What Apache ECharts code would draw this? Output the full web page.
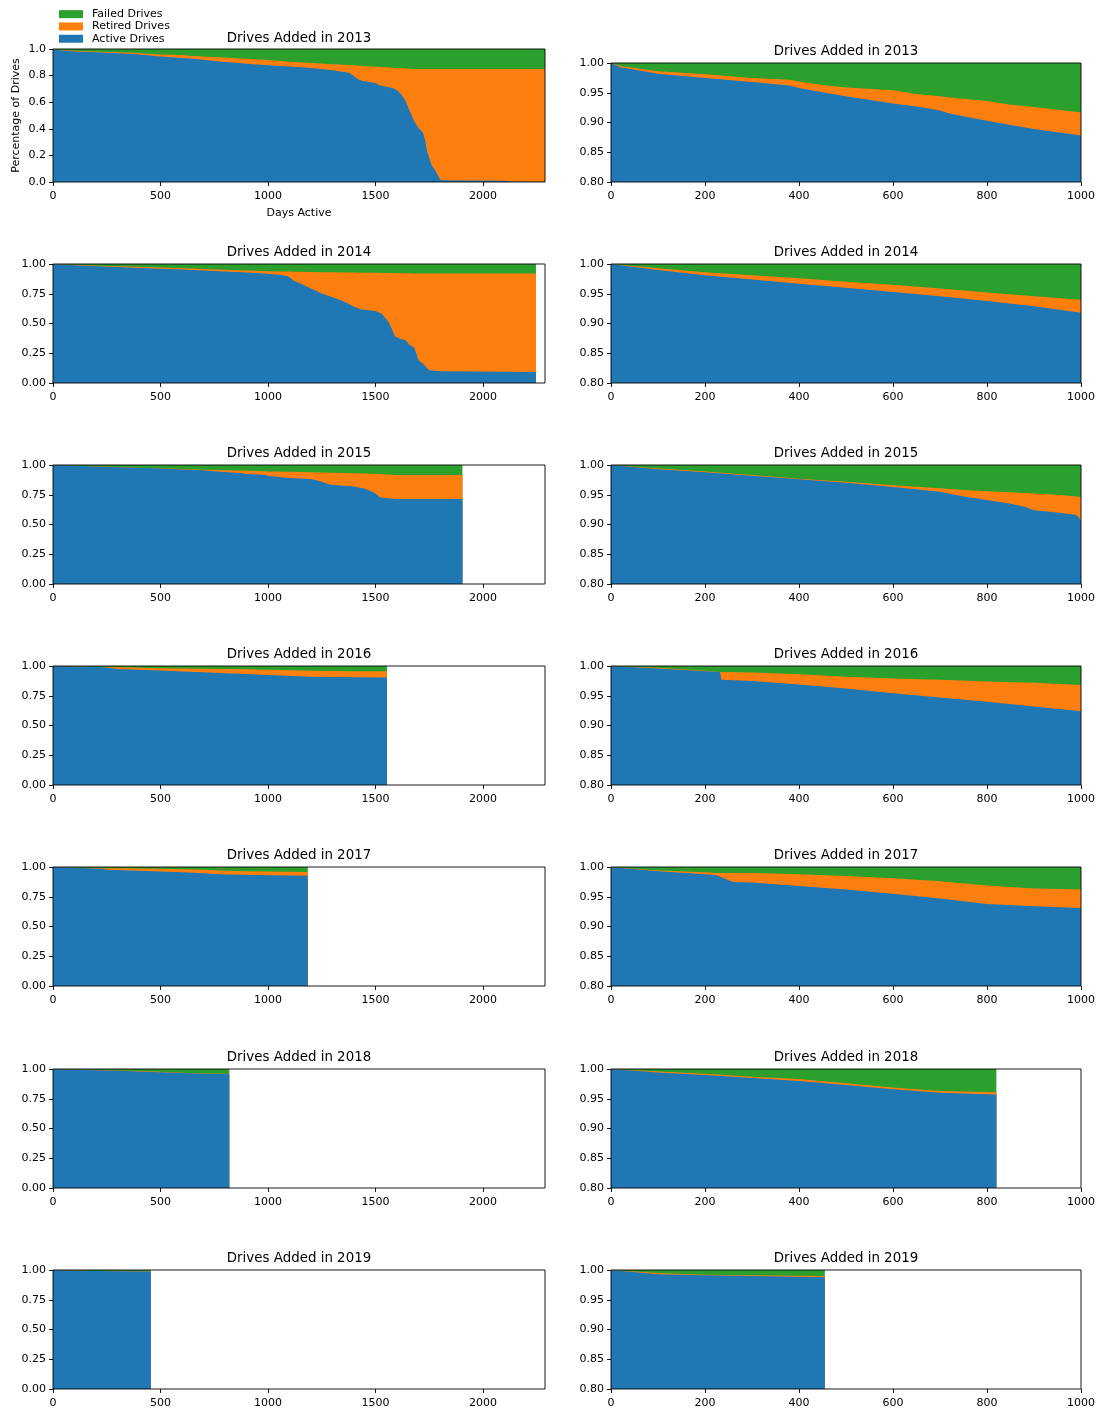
<!DOCTYPE html>
<html>
<head>
<meta charset="utf-8">
<script src="https://cdn.jsdelivr.net/npm/echarts@6/dist/echarts.min.js"></script>
<style>
  html, body { margin: 0; padding: 0; background: #fff; }
  #chart { width: 1103px; height: 1412px; }
</style>
</head>
<body>
<div id="chart"></div>
<script>
// Share of each yearly drive cohort that is still active, retired or failed,
// by number of days since the drives were added.

const seriesNames = ['Active Drives', 'Retired Drives', 'Failed Drives'];
const legendOrder = ['Failed Drives', 'Retired Drives', 'Active Drives'];
const cohortYears = [2013, 2014, 2015, 2016, 2017, 2018, 2019];

const leftDayTicks = [0, 500, 1000, 1500, 2000];
const rightDayTicks = [0, 200, 400, 600, 800, 1000];

// --- 2013 cohort ---
const days2013 = [0, 20, 100, 200, 300, 380, 400, 450, 500, 600, 650, 700, 720, 800, 850, 900, 1000, 1100, 1200, 1300, 1380, 1400, 1420, 1440, 1500, 1520, 1580, 1600, 1620, 1640, 1660, 1680, 1700, 1720, 1730, 1740, 1760, 1780, 1800, 1810, 2100, 2150, 2288];
const active2013 = [1.000, 0.993, 0.982, 0.975, 0.968, 0.962, 0.958, 0.951, 0.944, 0.932, 0.927, 0.920, 0.915, 0.903, 0.896, 0.889, 0.878, 0.868, 0.857, 0.840, 0.820, 0.795, 0.770, 0.760, 0.745, 0.725, 0.707, 0.690, 0.657, 0.607, 0.530, 0.456, 0.406, 0.373, 0.320, 0.230, 0.130, 0.080, 0.018, 0.013, 0.010, 0.002, 0.000];
const retired2013 = [0.000, 0.002, 0.004, 0.006, 0.007, 0.010, 0.011, 0.012, 0.015, 0.022, 0.021, 0.024, 0.027, 0.033, 0.034, 0.037, 0.039, 0.037, 0.038, 0.046, 0.059, 0.082, 0.105, 0.113, 0.122, 0.140, 0.152, 0.167, 0.198, 0.246, 0.322, 0.394, 0.444, 0.477, 0.530, 0.620, 0.720, 0.770, 0.832, 0.837, 0.840, 0.848, 0.850];
const failed2013 = [0.000, 0.005, 0.014, 0.019, 0.025, 0.028, 0.031, 0.037, 0.041, 0.046, 0.052, 0.056, 0.058, 0.064, 0.070, 0.074, 0.083, 0.095, 0.105, 0.114, 0.121, 0.123, 0.125, 0.127, 0.133, 0.135, 0.141, 0.143, 0.145, 0.147, 0.148, 0.150, 0.150, 0.150, 0.150, 0.150, 0.150, 0.150, 0.150, 0.150, 0.150, 0.150, 0.150];

// --- 2014 cohort ---
const days2014 = [0, 100, 200, 300, 400, 500, 600, 700, 800, 900, 1000, 1050, 1090, 1100, 1120, 1150, 1200, 1250, 1300, 1350, 1400, 1430, 1500, 1530, 1560, 1575, 1590, 1610, 1640, 1660, 1680, 1690, 1700, 1720, 1750, 1800, 2246];
const active2014 = [1.000, 0.990, 0.981, 0.974, 0.967, 0.960, 0.953, 0.946, 0.938, 0.929, 0.918, 0.910, 0.899, 0.888, 0.860, 0.837, 0.795, 0.753, 0.720, 0.688, 0.640, 0.620, 0.604, 0.580, 0.515, 0.458, 0.393, 0.375, 0.360, 0.318, 0.298, 0.247, 0.190, 0.163, 0.107, 0.098, 0.093];
const retired2014 = [0.000, 0.003, 0.005, 0.007, 0.009, 0.010, 0.012, 0.013, 0.014, 0.017, 0.022, 0.028, 0.038, 0.048, 0.075, 0.097, 0.137, 0.178, 0.210, 0.241, 0.288, 0.307, 0.322, 0.345, 0.409, 0.466, 0.530, 0.548, 0.562, 0.604, 0.623, 0.674, 0.731, 0.758, 0.813, 0.822, 0.827];
const failed2014 = [0.000, 0.007, 0.014, 0.019, 0.024, 0.030, 0.035, 0.041, 0.048, 0.054, 0.060, 0.062, 0.063, 0.064, 0.065, 0.066, 0.068, 0.069, 0.070, 0.071, 0.072, 0.073, 0.074, 0.075, 0.076, 0.076, 0.077, 0.077, 0.078, 0.078, 0.079, 0.079, 0.079, 0.079, 0.080, 0.080, 0.080];

// --- 2015 cohort ---
const days2015 = [0, 100, 200, 300, 400, 500, 600, 700, 750, 800, 850, 880, 900, 950, 990, 1000, 1100, 1200, 1250, 1290, 1400, 1450, 1480, 1500, 1520, 1550, 1600, 1904];
const active2015 = [1.000, 0.993, 0.988, 0.982, 0.976, 0.970, 0.963, 0.955, 0.947, 0.941, 0.935, 0.930, 0.924, 0.920, 0.916, 0.907, 0.890, 0.882, 0.860, 0.835, 0.820, 0.800, 0.780, 0.760, 0.730, 0.720, 0.715, 0.715];
const retired2015 = [0.000, 0.001, 0.001, 0.001, 0.001, 0.002, 0.003, 0.006, 0.011, 0.015, 0.019, 0.023, 0.028, 0.030, 0.031, 0.039, 0.053, 0.058, 0.077, 0.100, 0.110, 0.128, 0.147, 0.166, 0.194, 0.201, 0.201, 0.200];
const failed2015 = [0.000, 0.006, 0.011, 0.017, 0.023, 0.028, 0.034, 0.039, 0.042, 0.044, 0.046, 0.047, 0.048, 0.050, 0.053, 0.054, 0.057, 0.060, 0.063, 0.065, 0.070, 0.072, 0.073, 0.074, 0.076, 0.079, 0.084, 0.085];

// --- 2016 cohort ---
const days2016 = [0, 100, 200, 232, 235, 300, 400, 500, 600, 700, 800, 900, 1000, 1200, 1400, 1553];
const active2016 = [1.000, 0.996, 0.991, 0.990, 0.977, 0.975, 0.969, 0.962, 0.954, 0.947, 0.940, 0.932, 0.924, 0.910, 0.905, 0.904];
const retired2016 = [0.000, 0.001, 0.001, 0.000, 0.013, 0.014, 0.017, 0.020, 0.025, 0.030, 0.034, 0.040, 0.044, 0.050, 0.051, 0.052];
const failed2016 = [0.000, 0.003, 0.008, 0.010, 0.010, 0.011, 0.014, 0.018, 0.021, 0.023, 0.026, 0.028, 0.032, 0.040, 0.044, 0.044];

// --- 2017 cohort ---
const days2017 = [0, 100, 200, 225, 240, 260, 300, 400, 500, 600, 700, 800, 900, 1000, 1100, 1185];
const active2017 = [1.000, 0.993, 0.988, 0.986, 0.981, 0.975, 0.974, 0.968, 0.962, 0.955, 0.947, 0.938, 0.934, 0.931, 0.929, 0.927];
const retired2017 = [0.000, 0.001, 0.003, 0.004, 0.009, 0.015, 0.016, 0.020, 0.023, 0.026, 0.029, 0.031, 0.030, 0.031, 0.031, 0.031];
const failed2017 = [0.000, 0.006, 0.009, 0.010, 0.010, 0.010, 0.010, 0.012, 0.015, 0.019, 0.024, 0.031, 0.036, 0.038, 0.040, 0.042];

// --- 2018 cohort ---
const days2018 = [0, 100, 200, 300, 400, 500, 600, 700, 820];
const active2018 = [1.000, 0.994, 0.990, 0.985, 0.980, 0.973, 0.966, 0.960, 0.957];
const retired2018 = [0.000, 0.002, 0.002, 0.002, 0.003, 0.003, 0.003, 0.003, 0.004];
const failed2018 = [0.000, 0.004, 0.008, 0.013, 0.017, 0.024, 0.031, 0.037, 0.039];

// --- 2019 cohort ---
const days2019 = [0, 100, 200, 300, 455];
const active2019 = [1.000, 0.993, 0.991, 0.990, 0.988];
const retired2019 = [0.000, 0.002, 0.001, 0.001, 0.002];
const failed2019 = [0.000, 0.005, 0.008, 0.009, 0.010];

const cohorts = [
  { year: 2013, days: days2013, layers: [active2013, retired2013, failed2013] },
  { year: 2014, days: days2014, layers: [active2014, retired2014, failed2014] },
  { year: 2015, days: days2015, layers: [active2015, retired2015, failed2015] },
  { year: 2016, days: days2016, layers: [active2016, retired2016, failed2016] },
  { year: 2017, days: days2017, layers: [active2017, retired2017, failed2017] },
  { year: 2018, days: days2018, layers: [active2018, retired2018, failed2018] },
  { year: 2019, days: days2019, layers: [active2019, retired2019, failed2019] }
];

const colors = { 'Active Drives': '#1f77b4', 'Retired Drives': '#ff7f0e', 'Failed Drives': '#2ca02c' };
const FONT = 'DejaVu Sans';
const leftDayMax = Math.max(...cohorts.map(c => c.days[c.days.length - 1]));

// layout of the 7 x 2 panel grid
const LEFT_X = 53, LEFT_W = 492;
const RIGHT_X = 611, RIGHT_W = 470;
const PANEL_H = 119;
const rowTops = [63, 264, 465, 666, 867, 1069, 1270];
const firstLeftTop = 49;

const grids = [], xAxes = [], yAxes = [], series = [], titles = [];

// Stack the three layers: each band is drawn as an area from zero up to the
// running total, deepest layer first, so the layer above paints over it.
function stackedTops(cohort) {
  const tops = [];
  let running = cohort.days.map(() => 0);
  cohort.layers.forEach(vals => {
    running = running.map((r, j) => r + vals[j]);
    tops.push(running.slice());
  });
  return tops;
}

function addPanel(cohort, row, isLeft) {
  const first = isLeft && row === 0;
  const top = first ? firstLeftTop : rowTops[row];
  const height = first ? (rowTops[0] + PANEL_H - firstLeftTop) : PANEL_H;
  const left = isLeft ? LEFT_X : RIGHT_X;
  const width = isLeft ? LEFT_W : RIGHT_W;
  const g = grids.length;

  grids.push({
    left: left, top: top, width: width, height: height,
    show: true, z: 5, backgroundColor: 'transparent',
    borderColor: '#000', borderWidth: 0.9
  });

  const ticks = isLeft ? leftDayTicks : rightDayTicks;
  const xAxis = {
    type: 'value', gridIndex: g,
    min: 0, max: isLeft ? leftDayMax : 1000,
    axisLine: { show: false },
    axisTick: { show: true, length: 4, lineStyle: { color: '#000', width: 0.9 }, customValues: ticks },
    axisLabel: { color: '#000', fontSize: 11, fontFamily: FONT, margin: 9, customValues: ticks,
                 formatter: v => String(v) },
    splitLine: { show: false }
  };
  if (first) {
    xAxis.name = 'Days Active';
    xAxis.nameLocation = 'middle';
    xAxis.nameGap = 26;
    xAxis.nameTextStyle = { color: '#000', fontSize: 11, fontFamily: FONT };
  }
  xAxes.push(xAxis);

  let yMin = 0, yInt = 0.25, digits = 2;
  if (!isLeft) { yMin = 0.8; yInt = 0.05; }
  if (first) { yInt = 0.2; digits = 1; }
  const yAxis = {
    type: 'value', gridIndex: g,
    min: yMin, max: 1, interval: yInt,
    axisLine: { show: false },
    axisTick: { show: true, length: 4, lineStyle: { color: '#000', width: 0.9 } },
    axisLabel: { color: '#000', fontSize: 11, fontFamily: FONT, margin: 7,
                 formatter: v => v.toFixed(digits) },
    splitLine: { show: false }
  };
  if (first) {
    yAxis.name = 'Percentage of Drives';
    yAxis.nameLocation = 'middle';
    yAxis.nameGap = 31;
    yAxis.nameTextStyle = { color: '#000', fontSize: 11, fontFamily: FONT };
  }
  yAxes.push(yAxis);

  const tops = stackedTops(cohort);
  seriesNames.forEach((name, k) => {
    series.push({
      name: name, type: 'line', xAxisIndex: g, yAxisIndex: g,
      data: cohort.days.map((d, j) => [d, tops[k][j]]),
      showSymbol: false, symbol: 'none', clip: true,
      lineStyle: { width: 0, opacity: 0 },
      itemStyle: { color: colors[name] },
      areaStyle: { color: colors[name], opacity: 1, origin: 'start' },
      z: 4 - k
    });
  });

  titles.push({
    text: 'Drives Added in ' + cohort.year,
    left: left + width / 2,
    top: first ? top - 17 : top - 18,
    textAlign: 'center',
    padding: 0,
    textStyle: { color: '#000', fontSize: 13.4, fontWeight: 'normal', fontFamily: FONT }
  });
}

cohorts.forEach((c, i) => {
  addPanel(c, i, true);
  addPanel(c, i, false);
});

const chart = echarts.init(document.getElementById('chart'), null, { renderer: 'canvas' });
chart.setOption({
  animation: false,
  backgroundColor: '#fff',
  textStyle: { fontFamily: FONT },
  title: titles,
  legend: {
    data: legendOrder,
    orient: 'vertical',
    left: 59, top: 8, padding: 0,
    itemWidth: 24, itemHeight: 8, itemGap: 0,
    icon: 'rect',
    textStyle: { color: '#000', fontSize: 11, fontFamily: FONT, lineHeight: 12.3, padding: [0, 0, 0, 4] }
  },
  grid: grids,
  xAxis: xAxes,
  yAxis: yAxes,
  series: series
});
</script>
</body>
</html>
